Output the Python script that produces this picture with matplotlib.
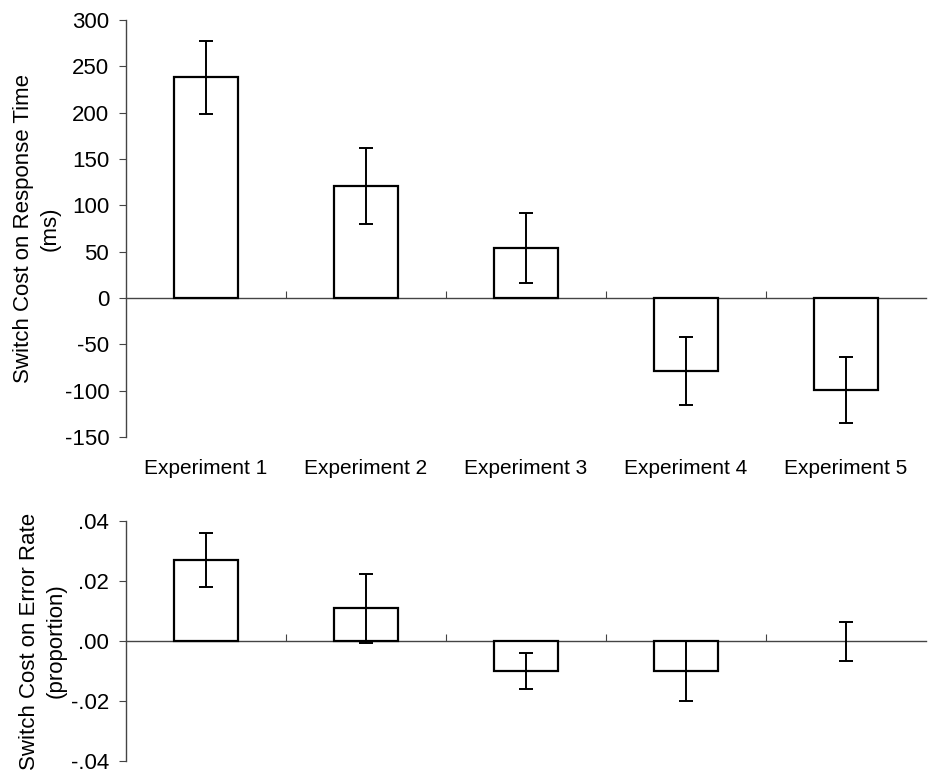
import matplotlib
matplotlib.use("Agg")
import matplotlib.pyplot as plt
import matplotlib.transforms as mtransforms
import numpy as np

plt.rcParams['font.family'] = ['Liberation Sans', 'DejaVu Sans']
plt.rcParams['axes.unicode_minus'] = False

categories = ["Experiment 1", "Experiment 2", "Experiment 3", "Experiment 4", "Experiment 5"]
rt_cost = [238, 121, 54, -79, -99]
rt_err = [39, 41, 38, 36.5, 35.5]
err_cost = [0.027, 0.011, -0.010, -0.010, 0.0]
err_err = [0.009, 0.0115, 0.006, 0.010, 0.0065]
rt_ticks = [-150, -100, -50, 0, 50, 100, 150, 200, 250, 300]
er_ticks = [-0.04, -0.02, 0.0, 0.02, 0.04]
er_ticklabels = ["-.04", "-.02", ".00", ".02", ".04"]

fig = plt.figure(figsize=(9.29, 7.75), dpi=100)
ax1 = fig.add_axes([0.1356, 0.4361, 0.8612, 0.5381])
ax2 = fig.add_axes([0.1356, 0.0180, 0.8612, 0.3097])

x = np.arange(len(categories))

def style(ax, vals, errs, ticks, ylim):
    edge = ['black' if v != 0 else 'none' for v in vals]
    ax.bar(x, vals, width=0.4, color='white', edgecolor=edge, linewidth=1.6, zorder=2)
    ax.errorbar(x, vals, yerr=errs, fmt='none', ecolor='black', elinewidth=1.4,
                capsize=5, capthick=1.4, zorder=3)
    ax.set_xlim(-0.5, len(categories) - 0.5)
    ax.set_ylim(*ylim)
    ax.set_yticks(ticks)
    for s in ['top', 'right']:
        ax.spines[s].set_visible(False)
    ax.spines['bottom'].set_position(('data', 0))
    ax.spines['bottom'].set_color('#444444')
    ax.spines['bottom'].set_linewidth(1.0)
    ax.spines['bottom'].set_zorder(1)
    ax.spines['left'].set_color('#444444')
    ax.spines['left'].set_linewidth(1.0)
    ax.set_xticks(x[:-1] + 0.5)
    ax.set_xticklabels([])
    ax.tick_params(axis='x', direction='in', length=5, width=0.8, color='#444444')
    ax.tick_params(axis='y', direction='out', length=5, width=0.8, color='#444444',
                   labelsize=16, pad=7)

style(ax1, rt_cost, rt_err, rt_ticks, (-150, 300))
style(ax2, err_cost, err_err, er_ticks, (-0.04, 0.04))
ax2.set_yticklabels(er_ticklabels)

trans = mtransforms.blended_transform_factory(ax1.transData, ax1.transAxes)
for xi, c in zip(x, categories):
    ax1.text(xi, -0.075, c, transform=trans, ha='center', va='center', fontsize=15)

ax1.set_ylabel("Switch Cost on Response Time\n(ms)", fontsize=16, linespacing=1.35, labelpad=3)
ax2.set_ylabel("Switch Cost on Error Rate\n(proportion)", fontsize=16, linespacing=1.35, labelpad=3)

fig.savefig("out.png", dpi=100)
